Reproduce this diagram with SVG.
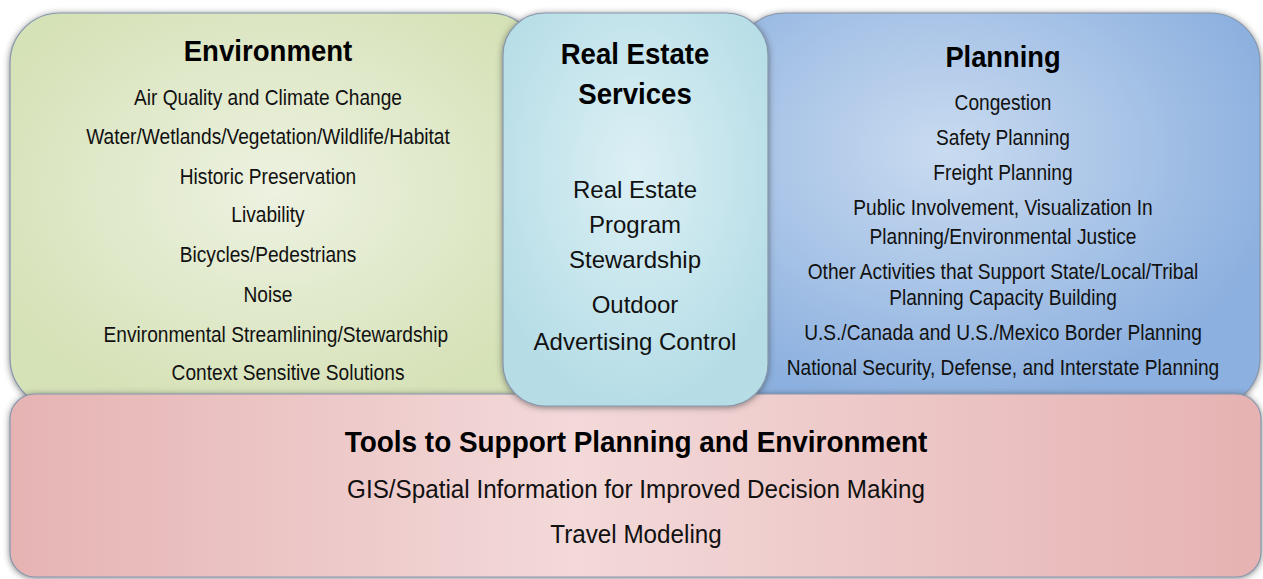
<svg xmlns="http://www.w3.org/2000/svg" width="1263" height="579" viewBox="0 0 1263 579">
  <defs>
    <radialGradient id="gEnv" cx="0.5" cy="0.45" r="0.6">
      <stop offset="0" stop-color="#edf2e1"/>
      <stop offset="1" stop-color="#d5e1b6"/>
    </radialGradient>
    <radialGradient id="gRes" cx="0.5" cy="0.4" r="0.6">
      <stop offset="0" stop-color="#dcf0f5"/>
      <stop offset="1" stop-color="#b6dde6"/>
    </radialGradient>
    <radialGradient id="gPlan" cx="0.4" cy="0.35" r="0.65">
      <stop offset="0" stop-color="#c9dbf0"/>
      <stop offset="1" stop-color="#8cb0df"/>
    </radialGradient>
    <linearGradient id="gTools" x1="0" y1="0" x2="1" y2="0">
      <stop offset="0" stop-color="#e6b3b3"/>
      <stop offset="0.45" stop-color="#f3d9d9"/>
      <stop offset="1" stop-color="#e6b2b2"/>
    </linearGradient>
    <filter id="shadow" x="-10%" y="-10%" width="120%" height="120%">
      <feDropShadow dx="0" dy="1" stdDeviation="3" flood-color="#333" flood-opacity="0.6"/>
    </filter>
  </defs>
  <style>
    .box { stroke: #8696ab; stroke-width: 1.2; filter: url(#shadow); }
    .head { font-family: "Liberation Sans", Arial, sans-serif; font-weight: bold; font-size: 30px; fill: #000; text-anchor: middle; }
    .item { font-family: "Liberation Sans", Arial, sans-serif; font-size: 22px; fill: #111; text-anchor: middle; }
    .big { font-family: "Liberation Sans", Arial, sans-serif; font-size: 24px; fill: #111; text-anchor: middle; }
  </style>
  <rect width="1263" height="579" fill="#ffffff"/>

  <g id="environment">
    <rect class="box" x="10" y="13" width="530" height="395" rx="50" fill="url(#gEnv)"/>
    <g transform="translate(268 0) scale(0.92 1)">
      <text class="head" x="0" y="61">Environment</text>
    </g>
    <g transform="translate(268 0) scale(0.87 1)">
      <text class="item" x="0" y="105">Air Quality and Climate Change</text>
      <text class="item" x="0" y="144">Water/Wetlands/Vegetation/Wildlife/Habitat</text>
      <text class="item" x="0" y="184">Historic Preservation</text>
      <text class="item" x="0" y="222">Livability</text>
      <text class="item" x="0" y="262">Bicycles/Pedestrians</text>
      <text class="item" x="0" y="302">Noise</text>
      <text class="item" x="9" y="342">Environmental  Streamlining/Stewardship</text>
      <text class="item" x="23" y="380">Context Sensitive Solutions</text>
    </g>
  </g>

  <g id="planning">
    <rect class="box" x="735" y="13" width="525" height="395" rx="50" fill="url(#gPlan)"/>
    <g transform="translate(1003 0) scale(0.91 1)">
      <text class="head" x="0" y="67">Planning</text>
    </g>
    <g transform="translate(1003 0) scale(0.87 1)">
      <text class="item" x="0" y="110">Congestion</text>
      <text class="item" x="0" y="145">Safety Planning</text>
      <text class="item" x="0" y="180">Freight Planning</text>
      <text class="item" x="0" y="215">Public Involvement, Visualization In</text>
      <text class="item" x="0" y="244">Planning/Environmental  Justice</text>
      <text class="item" x="0" y="279">Other Activities that Support State/Local/Tribal</text>
      <text class="item" x="0" y="305">Planning  Capacity Building</text>
      <text class="item" x="0" y="340">U.S./Canada and U.S./Mexico Border Planning</text>
      <text class="item" x="0" y="375">National Security, Defense, and Interstate Planning</text>
    </g>
  </g>

  <g id="tools">
    <rect class="box" x="10" y="394" width="1251" height="183" rx="25" fill="url(#gTools)"/>
    <g transform="translate(636 0) scale(0.963 1)">
      <text class="head" x="0" y="452" style="font-size:29px">Tools to Support Planning and Environment</text>
    </g>
    <g transform="translate(636 0) scale(0.97 1)">
      <text class="item" x="0" y="498" style="font-size:25px">GIS/Spatial Information for Improved Decision Making</text>
      <text class="item" x="0" y="543" style="font-size:25px">Travel Modeling</text>
    </g>
  </g>

  <g id="real-estate">
    <rect class="box" x="503" y="13" width="265" height="393" rx="42" fill="url(#gRes)"/>
    <g transform="translate(635 0) scale(0.92 1)">
      <text class="head" x="0" y="64">Real Estate</text>
      <text class="head" x="0" y="104">Services</text>
    </g>
    <text class="big" x="635" y="198">Real Estate</text>
    <text class="big" x="635" y="233">Program</text>
    <text class="big" x="635" y="268">Stewardship</text>
    <text class="big" x="635" y="313">Outdoor</text>
    <text class="big" x="635" y="350">Advertising Control</text>
  </g>

  <g id="connectors"/>
</svg>
